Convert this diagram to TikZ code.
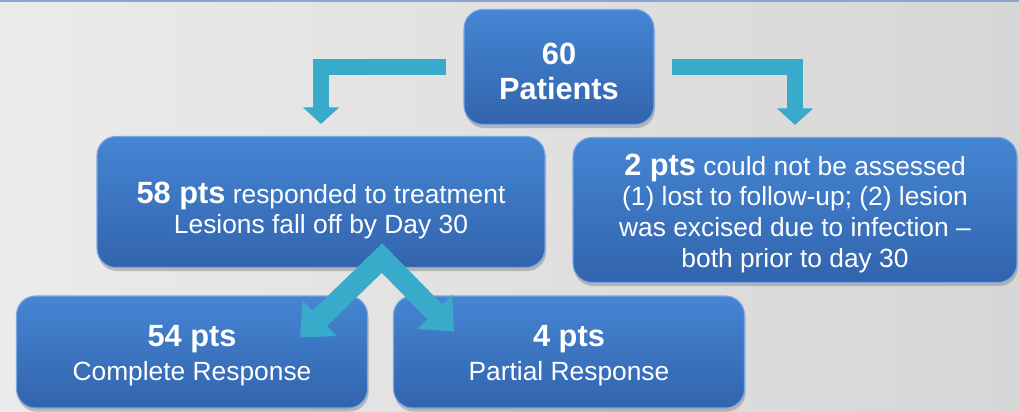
\documentclass[tikz,border=0pt]{standalone}
\usepackage{fontspec}
\setmainfont{Liberation Sans}
\usetikzlibrary{arrows.meta,shadows,positioning}
\definecolor{BoxTop}{HTML}{4585D3}
\definecolor{BoxBot}{HTML}{3264AD}
\definecolor{BoxRim}{HTML}{7AA6E2}
\definecolor{Aqua}{HTML}{38AACA}
\definecolor{PageL}{HTML}{EBEBEB}
\definecolor{PageR}{HTML}{D6D6D6}
\definecolor{TopRule}{HTML}{8FA2D2}
\newcommand{\ptsbold}[1]{{\fontsize{17.5}{20}\selectfont\bfseries #1}}
\newcommand{\padtop}[1]{\rule{0pt}{#1}}

\begin{document}
\begin{tikzpicture}[
      box/.style={rounded corners=0.38cm,top color=BoxTop,bottom color=BoxBot,draw=BoxRim,line width=0.6pt,
        text=white,align=center,inner sep=0pt,font=\fontsize{15}{17.5}\selectfont,
        drop shadow={shadow xshift=0.6pt,shadow yshift=-2pt,opacity=0.45}},
      elbow/.style={-{Triangle[length=0.33cm,width=0.7cm]},line width=0.33cm,draw=Aqua,
        shorten <=0.34cm,shorten >=0.24cm},
      fork/.style={{Triangle[length=0.55cm,width=0.95cm]}-{Triangle[length=0.55cm,width=0.95cm]},
        line width=0.42cm,draw=Aqua,line join=miter}]
      \useasboundingbox (0,0) rectangle (20.38,8.22);
      \shade[left color=PageL,right color=PageR] (0,0) rectangle (20.38,8.22);
      \draw[TopRule,line width=1.2pt] (0,8.2) -- (20.38,8.2);
      \node[box,minimum width=3.8cm,minimum height=2.3cm] (all) at (11.18,6.88)
        {\padtop{17pt}\ptsbold{60}\\[2.5pt]\ptsbold{Patients}};
      \node[box,minimum width=8.96cm,minimum height=2.62cm] (resp) at (6.42,4.18)
        {\padtop{22pt}\ptsbold{58 pts} responded to treatment\\Lesions fall off by Day 30};
      \node[box,minimum width=8.88cm,minimum height=2.9cm] (na) at (15.9,4.02)
        {\padtop{16pt}\ptsbold{2 pts} could not be assessed\\(1) lost to follow-up; (2) lesion\\was excised due to infection --\\both prior to day 30};
      \node[box,minimum width=7.02cm,minimum height=2.24cm] (cr) at (3.84,1.18)
        {\padtop{16pt}\ptsbold{54 pts}\\[2pt]Complete Response};
      \node[box,minimum width=7.02cm,minimum height=2.24cm] (pr) at (11.38,1.18)
        {\padtop{16pt}\ptsbold{4 pts}\\[2pt]Partial Response};
      \draw[elbow] (all.west) -| (resp.north);
      \draw[elbow] (all.east) -| (na.north);
      \coordinate (split) at ([xshift=1.22cm,yshift=0.2cm]resp.south);
      \draw[fork] ([xshift=-1.36cm,yshift=-0.84cm]cr.north east) -- (split)
        -- ([xshift=1.22cm,yshift=-0.72cm]pr.north west);
    \end{tikzpicture}
\end{document}
